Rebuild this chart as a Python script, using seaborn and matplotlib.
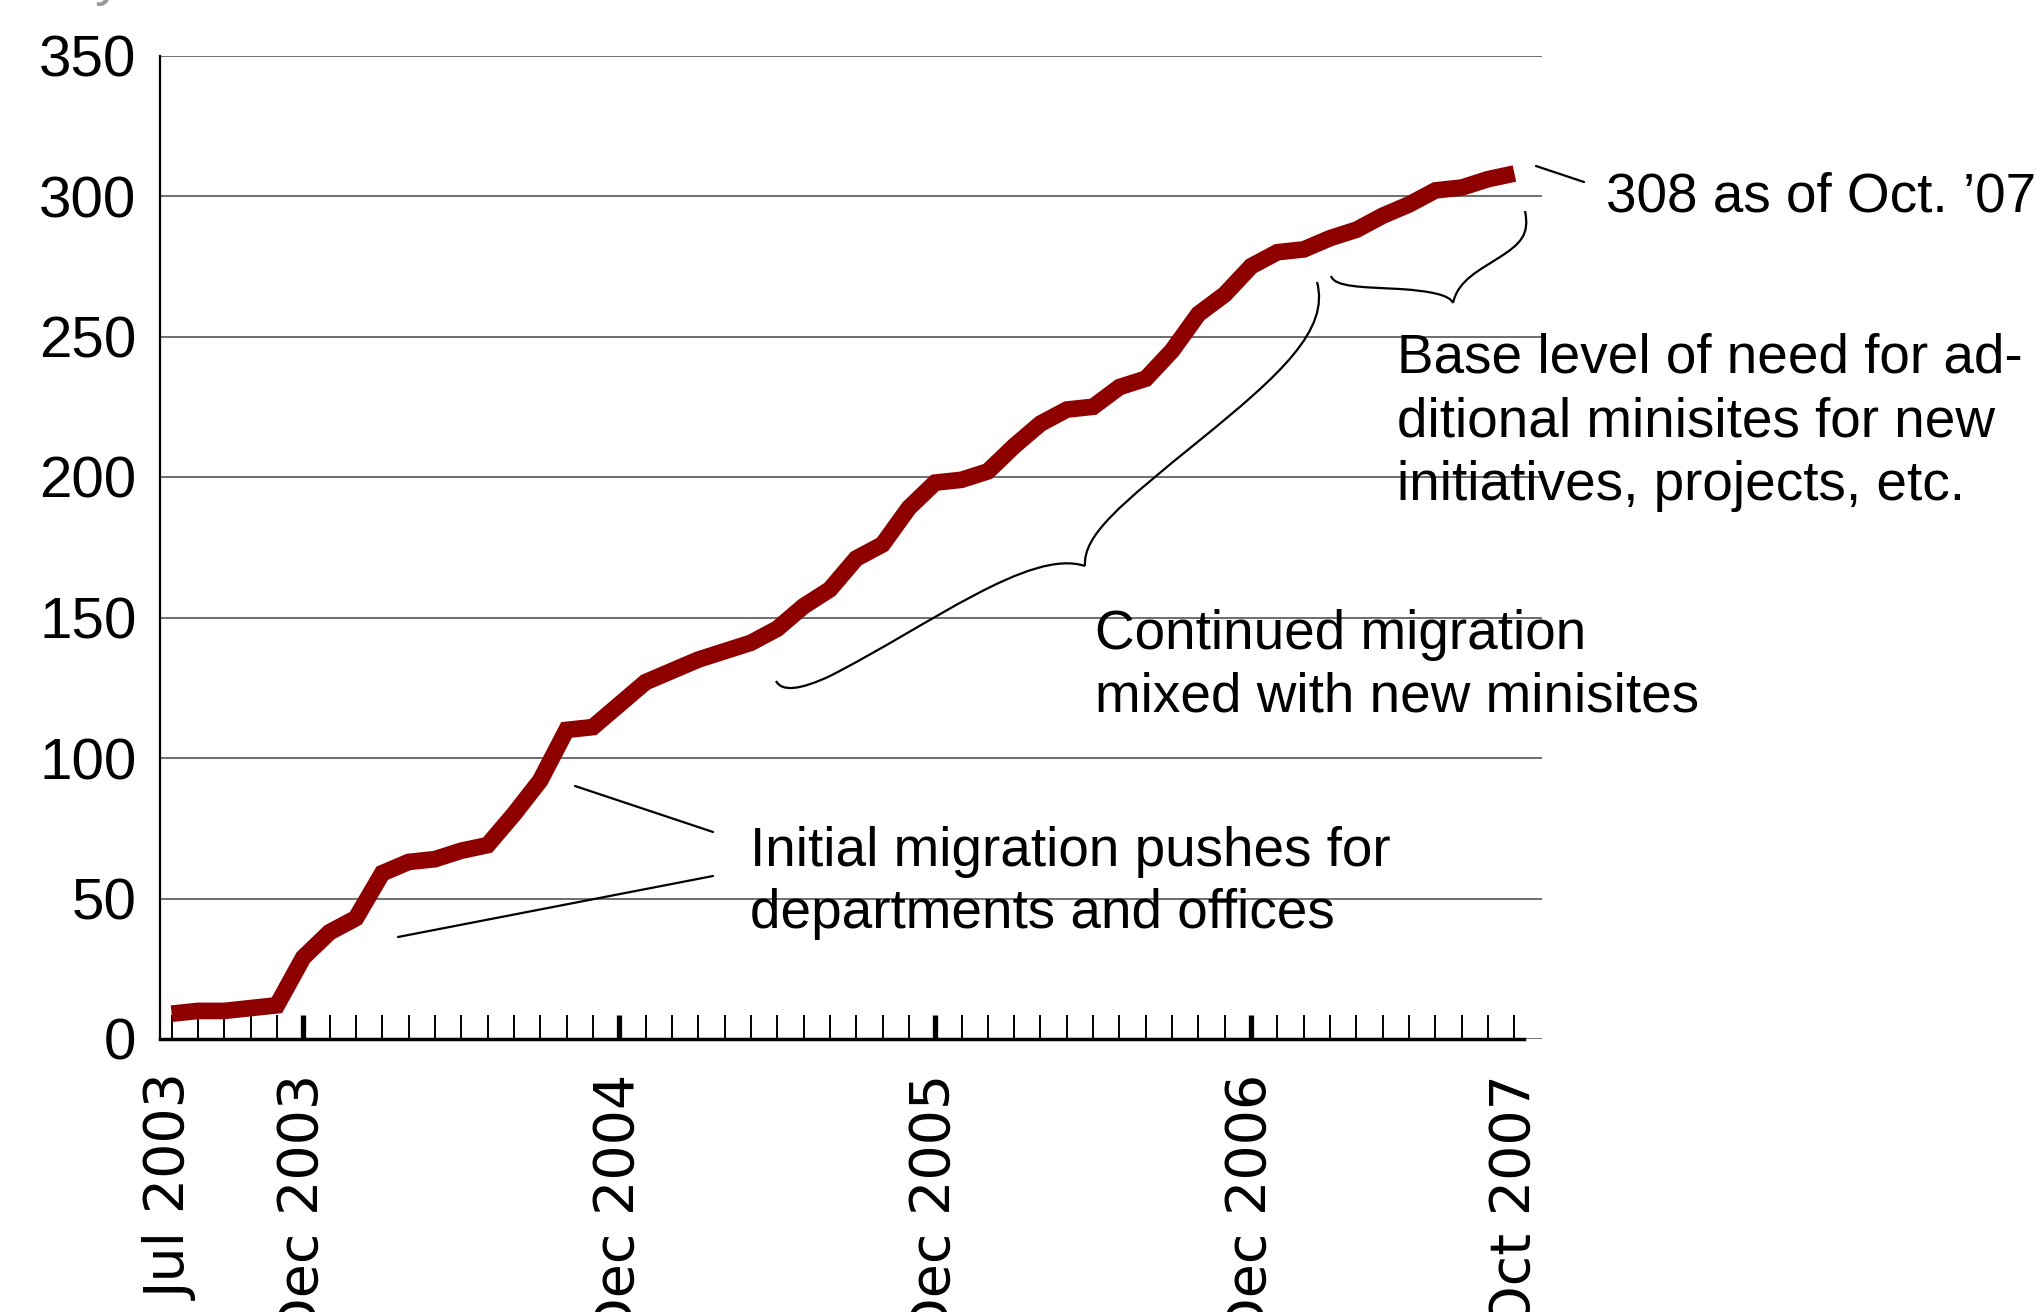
import numpy as np
import pandas as pd
import matplotlib
matplotlib.use("Agg")
import matplotlib.pyplot as plt
import seaborn as sns
from matplotlib.path import Path
from matplotlib.patches import PathPatch
from matplotlib.lines import Line2D

# ---------------- data ----------------
months = pd.date_range("2003-07-01", periods=52, freq="MS")
minisites = [9, 10, 10, 11, 12, 29, 38, 43, 59, 63,
             64, 67, 69, 80, 92, 110, 111, 119, 127, 131,
             135, 138, 141, 146, 154, 160, 171, 176, 189, 198,
             199, 202, 211, 219, 224, 225, 232, 235, 245, 258,
             265, 275, 280, 281, 285, 288, 293, 297, 302, 303,
             306, 308]
labelled_months = ["2003-07", "2003-12", "2004-12", "2005-12", "2006-12", "2007-10"]
labelled_texts = ["Jul 2003", "Dec 2003", "Dec 2004", "Dec 2005", "Dec 2006", "Oct 2007"]
y_ticks = [0, 50, 100, 150, 200, 250, 300, 350]

note_final = "308 as of Oct. \u201907"
note_base = ["Base level of need for ad-", "ditional minisites for new", "initiatives, projects, etc."]
note_cont = ["Continued migration", "mixed with new minisites"]
note_init = ["Initial migration pushes for", "departments and offices"]

# ---------------- figure ----------------
W, H = 2036, 1312
sns.set_theme(style="white")
plt.rcParams["font.family"] = ["Liberation Sans", "DejaVu Sans"]

fig = plt.figure(figsize=(W / 100, H / 100), dpi=100)
ax_left, ax_right, ax_bottom, ax_top = 160, 1542, 1039, 55.5
ax = fig.add_axes([ax_left / W, 1 - ax_bottom / H, (ax_right - ax_left) / W, (ax_bottom - ax_top) / H])

df = pd.DataFrame({"idx": np.arange(len(months)), "minisites": minisites})
sns.lineplot(data=df, x="idx", y="minisites", ax=ax, color="#8E0000", lw=12,
             solid_joinstyle="miter", solid_capstyle="butt", zorder=3)

px_per_month = 26.33
xmin = -(171.6 - ax_left) / px_per_month
xmax = xmin + (ax_right - ax_left) / px_per_month
ax.set_xlim(xmin, xmax)
ax.set_ylim(0, 350)
ax.set_xlabel("")
ax.set_ylabel("")

# x ticks
month_keys = [m.strftime("%Y-%m") for m in months]
lab_map = dict(zip(labelled_months, labelled_texts))
major_idx = [i for i, k in enumerate(month_keys) if k.endswith("-12")]
major_lab = [lab_map.get(month_keys[i], "") for i in major_idx]
minor_idx = [i for i, k in enumerate(month_keys) if not k.endswith("-12")]
minor_lab = [lab_map.get(month_keys[i], "") for i in minor_idx]
ax.set_xticks(major_idx, labels=major_lab)
ax.set_xticks(minor_idx, labels=minor_lab, minor=True)
ax.tick_params(axis="x", which="both", bottom=True, direction="in", length=17.3,
               pad=25, labelsize=40, labelrotation=90, color="black", labelcolor="black")
ax.tick_params(axis="x", which="major", width=3.8)
ax.tick_params(axis="x", which="minor", width=1.4)
for t in ax.get_xticklabels(which="both"):
    t.set_fontfamily(["DejaVu Sans"])

# y ticks
ax.set_yticks(y_ticks)
ax.set_yticklabels([str(v) for v in y_ticks])
ax.tick_params(axis="y", left=False, length=0, pad=17, labelsize=42, labelcolor="black")

ax.yaxis.grid(True, color="#6e6e6e", lw=1.4)
ax.xaxis.grid(False)
ax.set_axisbelow(True)

for s in ["top", "right"]:
    ax.spines[s].set_visible(False)
ax.spines["left"].set_color("black")
ax.spines["left"].set_linewidth(1.6)
ax.spines["bottom"].set_color("black")
ax.spines["bottom"].set_linewidth(2.5)
ax.spines["bottom"].set_bounds(xmin, 51.35)
ax.spines["bottom"].set_zorder(4)


# ---------------- annotations (figure-pixel placement) ----------------
def fx(x):
    return x / W


def fy(y):
    return 1 - y / H


def lines_text(lines, x, y0, step, size=39.5):
    for k, s in enumerate(lines):
        fig.text(fx(x), fy(y0 + k * step), s, ha="left", va="baseline",
                 fontsize=size, color="black")


fig.text(fx(1606), fy(211), note_final, ha="left", va="baseline", fontsize=39.5, color="black")
lines_text(note_base, 1397, 372.5, 64)
lines_text(note_cont, 1095, 649, 63)
lines_text(note_init, 750, 866, 62)

# partially cropped grey label at the very top
fig.text(fx(95), fy(-6), "y", ha="left", va="baseline", fontsize=40, color="#9a9a9a")


def seg(x0, y0, x1, y1):
    fig.add_artist(Line2D([fx(x0), fx(x1)], [fy(y0), fy(y1)], transform=fig.transFigure,
                          color="black", lw=1.6))


seg(1536, 166, 1584, 182)
seg(575, 786, 713, 832)
seg(398, 937, 713, 876)


def bezier(points):
    verts = [(fx(x), fy(y)) for x, y in points]
    codes = [Path.MOVETO] + [Path.CURVE4] * (len(points) - 1)
    fig.add_artist(PathPatch(Path(verts, codes), transform=fig.transFigure,
                             fill=False, edgecolor="black", lw=1.6))


# large brace
bezier([(776, 681), (782, 692), (800, 690), (830, 676),
        (930, 625), (1030, 548), (1085, 566)])
bezier([(1085, 566), (1083, 535), (1120, 505), (1200, 440),
        (1280, 375), (1330, 330), (1317, 282)])
# small brace
bezier([(1331, 276), (1335, 287), (1360, 287), (1400, 289),
        (1430, 291), (1450, 295), (1453, 303)])
bezier([(1453, 303), (1458, 280), (1480, 270), (1500, 257),
        (1520, 244), (1530, 235), (1525, 211)])

fig.savefig("out.png", dpi=100, facecolor="white")
